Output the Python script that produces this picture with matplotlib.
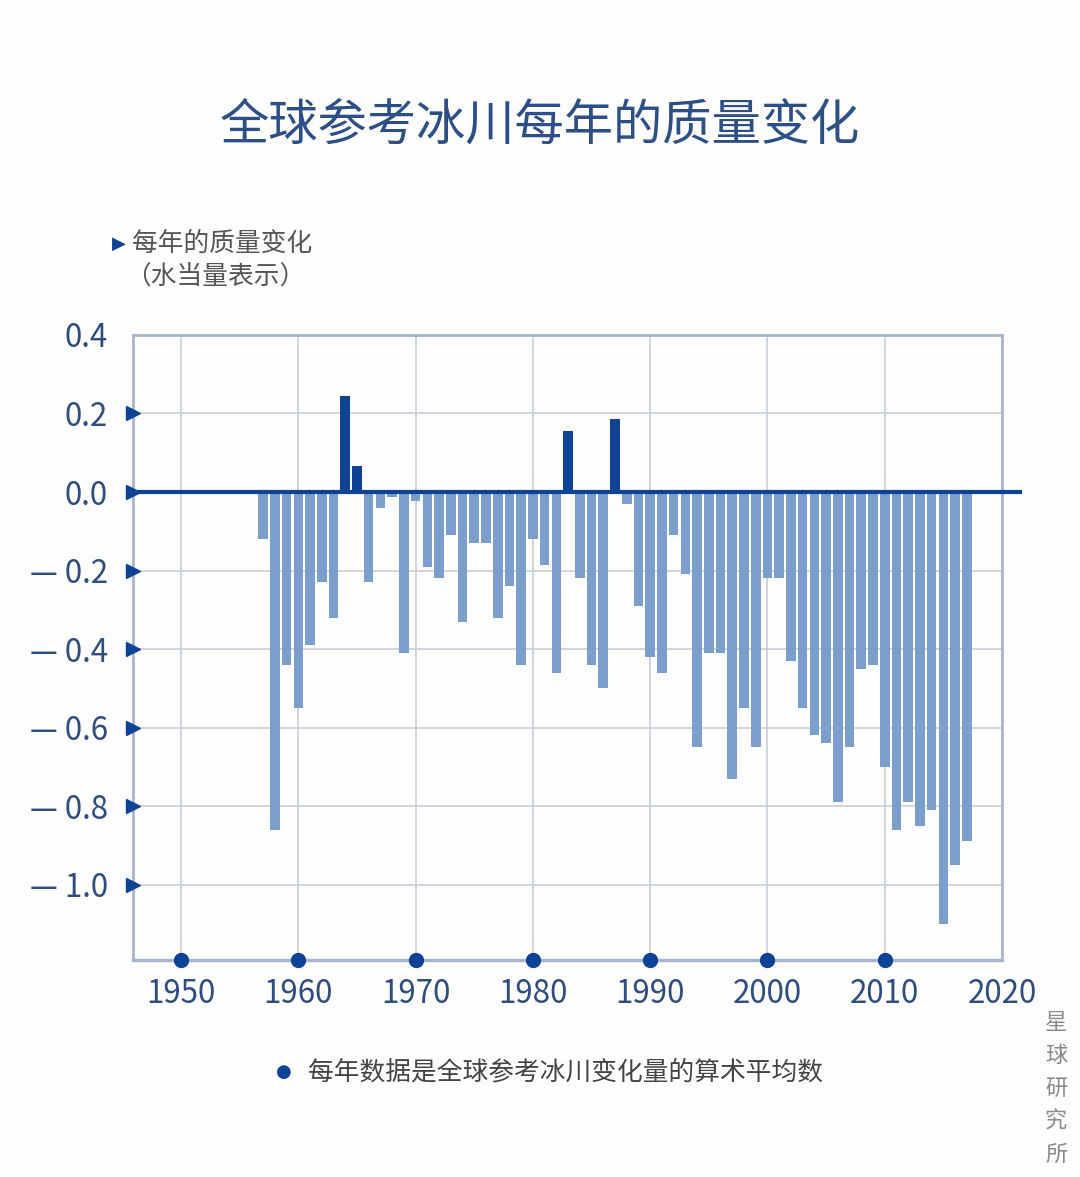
import matplotlib.pyplot as plt

plt.rcParams['font.family'] = ['Noto Sans CJK SC', 'DejaVu Sans']

# Annual mass balance of reference glaciers (m water equivalent)
years = list(range(1957, 2018))
values = [-0.12, -0.86, -0.44, -0.55, -0.39, -0.23, -0.32, 0.245, 0.065, -0.23,
          -0.04, -0.012, -0.41, -0.022, -0.19, -0.22, -0.11, -0.33, -0.13, -0.13,
          -0.32, -0.24, -0.44, -0.12, -0.185, -0.46, 0.155, -0.22, -0.44, -0.50,
          0.185, -0.03, -0.29, -0.42, -0.46, -0.11, -0.21, -0.65, -0.41, -0.41,
          -0.73, -0.55, -0.65, -0.22, -0.22, -0.43, -0.55, -0.62, -0.64, -0.79,
          -0.65, -0.45, -0.44, -0.70, -0.86, -0.79, -0.85, -0.81, -1.10, -0.95,
          -0.89]

x_ticks = [1950, 1960, 1970, 1980, 1990, 2000, 2010, 2020]
y_ticks = [0.4, 0.2, 0.0, -0.2, -0.4, -0.6, -0.8, -1.0]
y_labels = ['0.4', '0.2', '0.0', '— 0.2', '— 0.4', '— 0.6', '— 0.8', '— 1.0']

dark = '#0d4294'
light = '#7b9fcc'
text_blue = '#2f4d7e'
frame = '#a8b6cc'

fig = plt.figure(figsize=(10.8, 11.77), dpi=100)
fig.patch.set_facecolor('#fdfdfe')
ax = fig.add_axes([0.1231, 0.1844, 0.8047, 0.5310])
ax.set_facecolor('#fdfdfe')

colors = [dark if v > 0 else light for v in values]
ax.bar(years, values, width=0.82, color=colors, zorder=3)

ax.set_xlim(1945.9, 2019.9)
ax.set_ylim(-1.192, 0.4)
ax.set_xticks(x_ticks)
ax.set_xticklabels([str(y) for y in x_ticks])
ax.set_yticks(y_ticks)
ax.set_yticklabels(y_labels)
ax.tick_params(length=0, labelsize=22.5, colors=text_blue, pad=13)
ax.tick_params(axis='y', pad=18)
ax.grid(True, color='#c9ced8', linewidth=1.2, zorder=0)

for s in ax.spines.values():
    s.set_color(frame)
    s.set_linewidth(2)
ax.spines['bottom'].set_linewidth(2.5)

# zero line running past the right edge
ax.plot([0, 1.021], [0, 0], transform=ax.get_yaxis_transform(), color=dark,
        linewidth=3, clip_on=False, zorder=4)

# triangle markers on the y axis
ax.plot([0] * 6, [0.2, 0.0, -0.2, -0.4, -0.6, -0.8], linestyle='none', marker='>',
        markersize=10, color=dark, transform=ax.get_yaxis_transform(),
        clip_on=False, zorder=5)
ax.plot([0], [-1.0], linestyle='none', marker='>', markersize=10, color=dark,
        transform=ax.get_yaxis_transform(), clip_on=False, zorder=5)

# dots on the x axis
ax.plot(x_ticks[:-1], [0] * 7, linestyle='none', marker='o', markersize=10,
        color=dark, transform=ax.get_xaxis_transform(), clip_on=False, zorder=5)

fig.text(0.5, 0.893, '全球参考冰川每年的质量变化', ha='center', va='center',
         fontsize=35.5, color='#2c4f86')

fig.text(0.104, 0.793, '▶', ha='left', va='center', fontsize=13, color=dark,
         family=['DejaVu Sans'])
fig.text(0.122, 0.793, '每年的质量变化', ha='left', va='center', fontsize=18.5,
         color='#555555')
fig.text(0.116, 0.765, '（水当量表示）', ha='left', va='center', fontsize=18.5,
         color='#555555')

fig.text(0.263, 0.089, '●', ha='center', va='center', fontsize=13, color=dark,
         family=['DejaVu Sans'])
fig.text(0.285, 0.089, '每年数据是全球参考冰川变化量的算术平均数', ha='left',
         va='center', fontsize=18.5, color='#444444')

fig.text(0.978, 0.075, '星\n球\n研\n究\n所', ha='center', va='center',
         fontsize=16, color='#8a8a8a', linespacing=1.55)

fig.savefig('out.png', dpi=100, facecolor=fig.get_facecolor())
